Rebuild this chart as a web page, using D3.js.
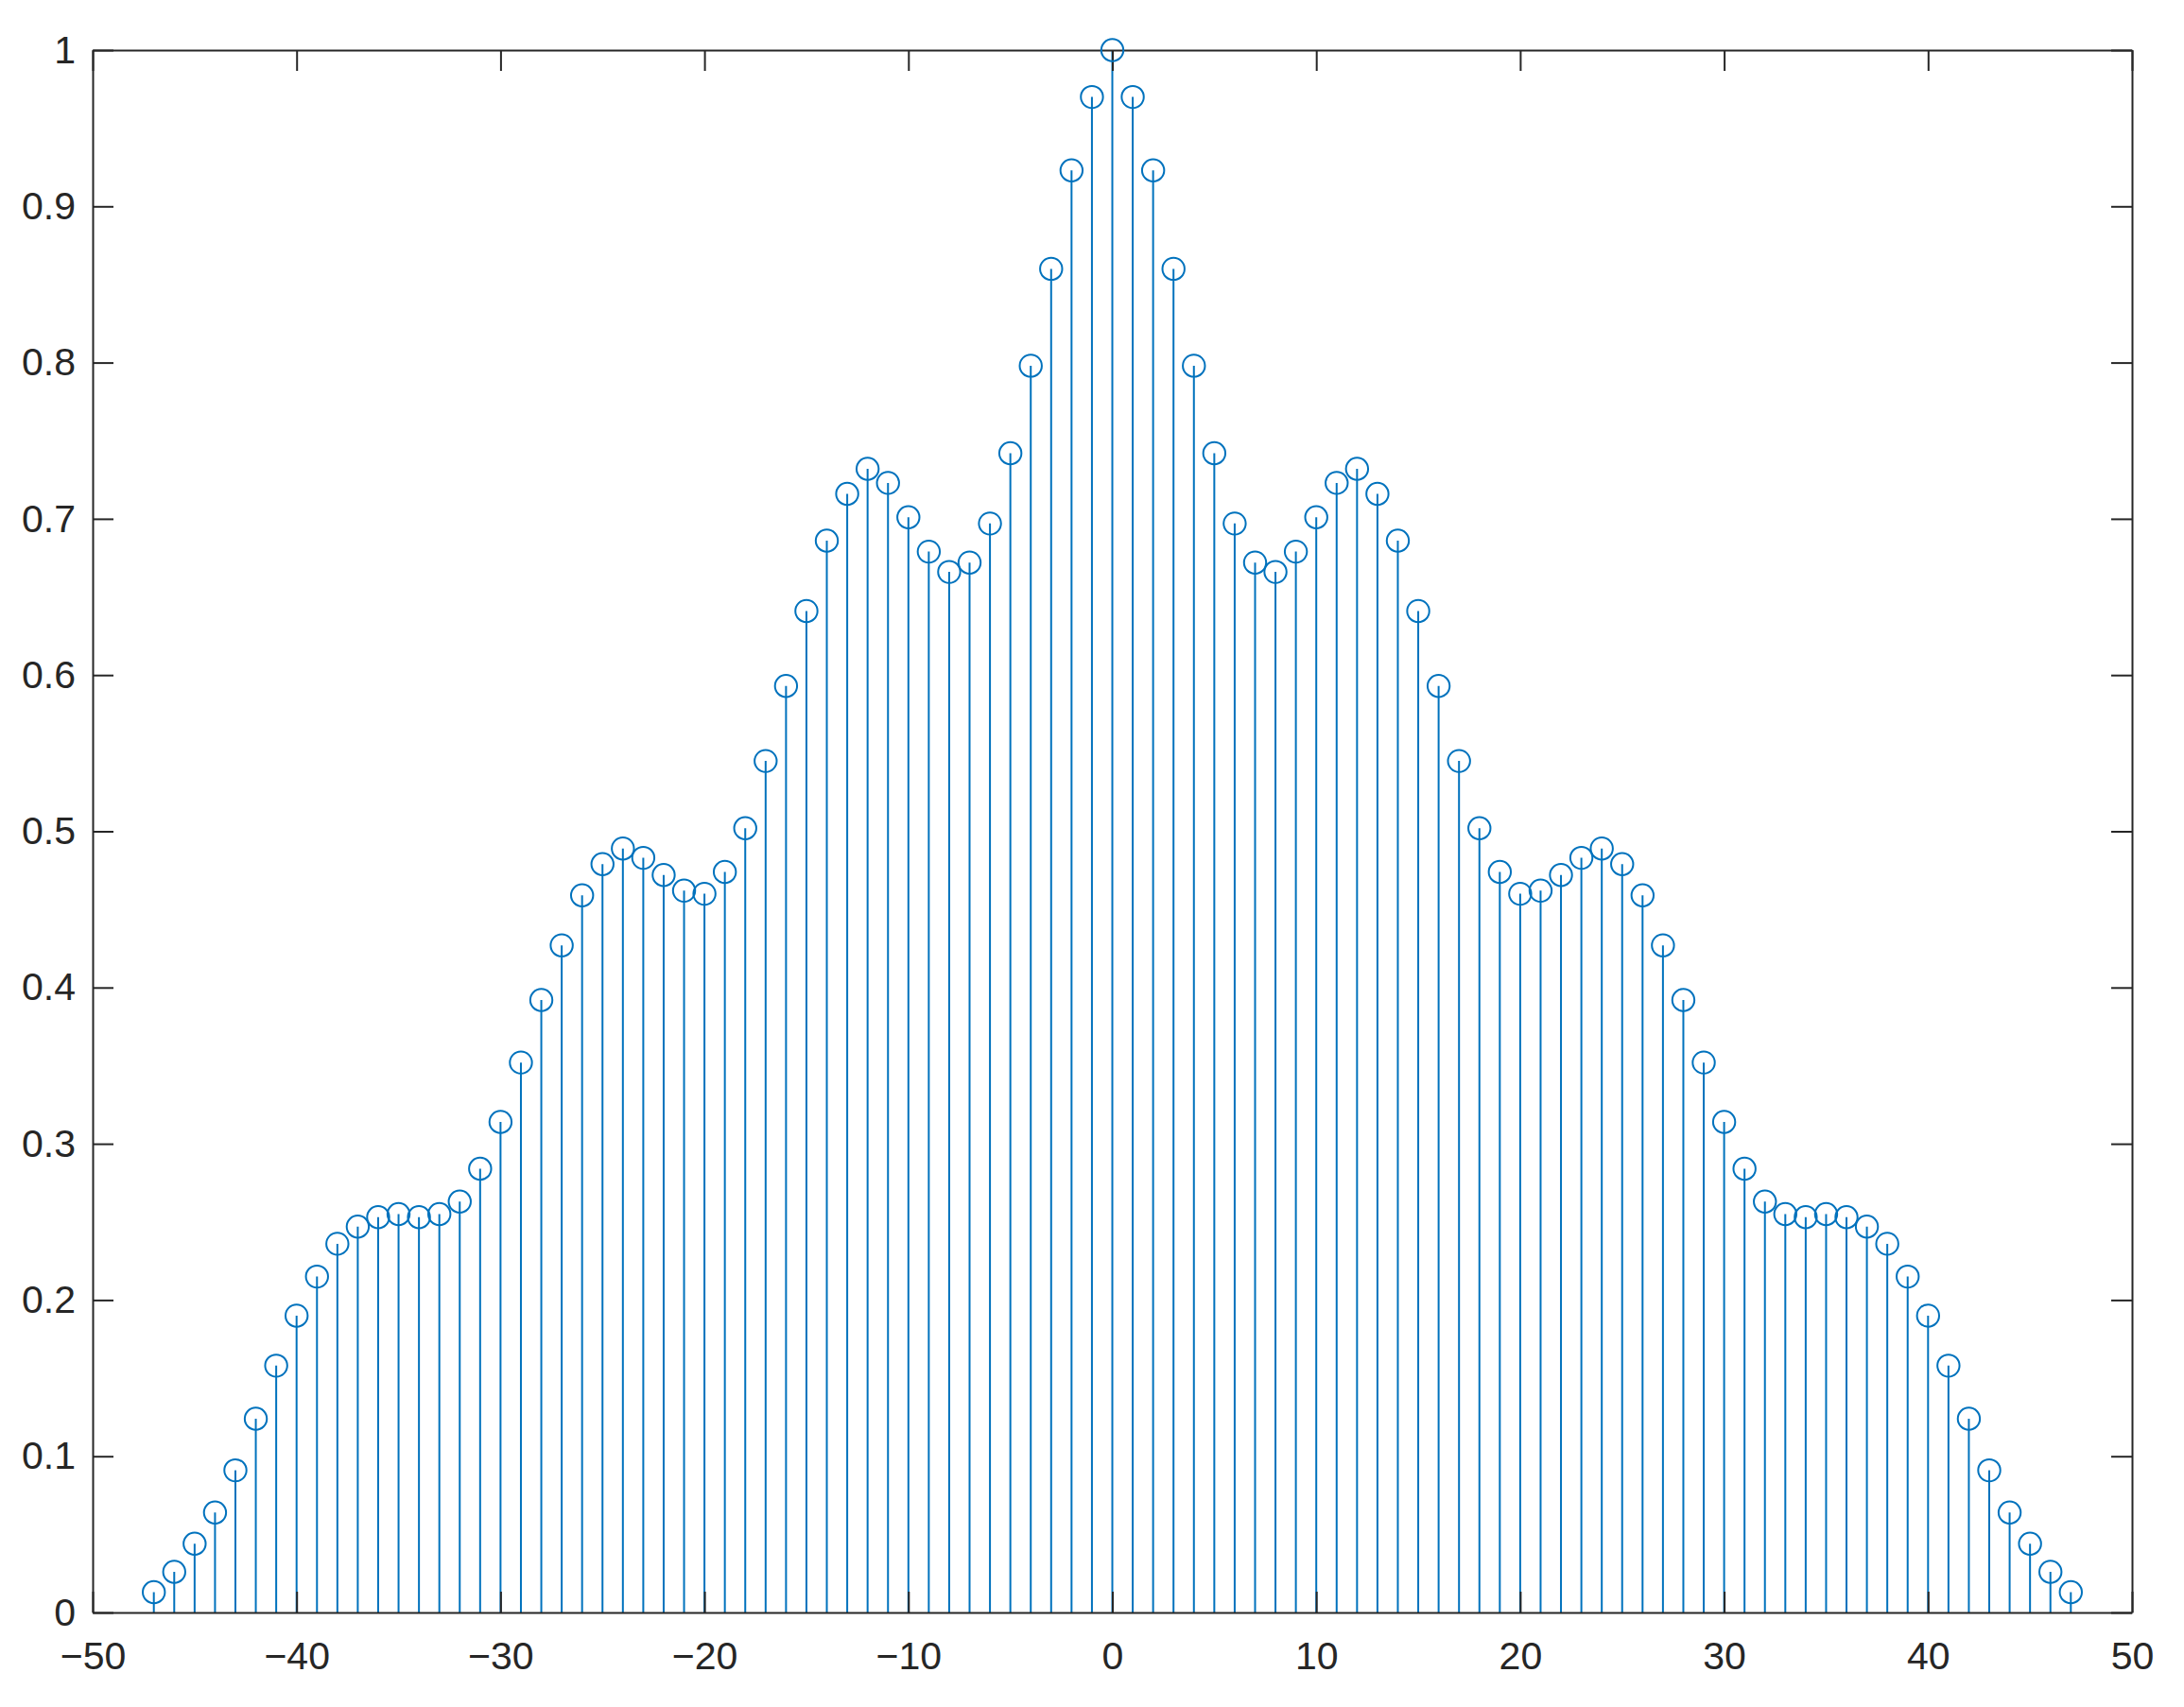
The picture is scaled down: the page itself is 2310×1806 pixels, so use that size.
<!DOCTYPE html>
<html lang="en">
<head>
    <meta charset="UTF-8">
    <title>Stem plot</title>
    <script src="https://d3js.org/d3.v7.min.js"></script>
<style>
    body { margin: 0; background: white; }
    .axis text { font-family: "Liberation Sans", Arial, sans-serif; font-size: 41px; fill: #262626; }
    .axis path, .axis line { stroke: #262626; stroke-width: 2; }
</style>
</head>
<body>
<script>

    // lags on the x axis
    var lags = d3.range(-47, 48);

    // stem heights, for lag -47 ... 47
    var values = [
        0.013, 0.026, 0.044, 0.064, 0.091, 0.124, 0.158, 0.190, 0.215, 0.236,
        0.247, 0.253, 0.255, 0.253, 0.255, 0.263, 0.284, 0.314, 0.352, 0.392,
        0.427, 0.459, 0.479, 0.489, 0.483, 0.472, 0.462, 0.460, 0.474, 0.502,
        0.545, 0.593, 0.641, 0.686, 0.716, 0.732, 0.723, 0.701, 0.679, 0.666,
        0.672, 0.697, 0.742, 0.798, 0.860, 0.923, 0.970,
        1.000,
        0.970, 0.923, 0.860, 0.798, 0.742, 0.697, 0.672, 0.666, 0.679, 0.701,
        0.723, 0.732, 0.716, 0.686, 0.641, 0.593, 0.545, 0.502, 0.474, 0.460,
        0.462, 0.472, 0.483, 0.489, 0.479, 0.459, 0.427, 0.392, 0.352, 0.314,
        0.284, 0.263, 0.255, 0.253, 0.255, 0.253, 0.247, 0.236, 0.215, 0.190,
        0.158, 0.124, 0.091, 0.064, 0.044, 0.026, 0.013
    ];

    var xTicks = [-50, -40, -30, -20, -10, 0, 10, 20, 30, 40, 50];
    var yTicks = [0, 0.1, 0.2, 0.3, 0.4, 0.5, 0.6, 0.7, 0.8, 0.9, 1];

    var W = 2310, H = 1806;
    var margin = {top: 53, right: 55, bottom: 100, left: 98};
    var width = W - margin.left - margin.right;
    var height = H - margin.top - margin.bottom;
    var tick = 22;
    var color = "#0072BD";

    var svg = d3.select("body").append("svg")
        .attr("width", W)
        .attr("height", H);

    var g = svg.append("g")
        .attr("transform", `translate(${margin.left},${margin.top})`);

    var x = d3.scaleLinear().domain([-50, 50]).range([0, width]);
    var y = d3.scaleLinear().domain([0, 1]).range([height, 0]);

    var data = lags.map(function(d, i) { return {lag: d, v: values[i]}; });

    // stems
    g.append("g").selectAll("line")
        .data(data)
        .enter()
        .append("line")
            .attr("x1", function(d) { return x(d.lag); })
            .attr("x2", function(d) { return x(d.lag); })
            .attr("y1", y(0))
            .attr("y2", function(d) { return y(d.v); })
            .attr("stroke", color)
            .attr("stroke-width", 2);

    // axes, box on, ticks pointing in
    g.append("g").attr("class", "axis")
        .attr("transform", `translate(0,${height})`)
        .call(d3.axisBottom(x).tickValues(xTicks).tickSize(-tick).tickSizeOuter(0).tickPadding(31));

    g.append("g").attr("class", "axis")
        .call(d3.axisLeft(y).tickValues(yTicks).tickSize(-tick).tickSizeOuter(0).tickPadding(18)
            .tickFormat(function(d) { return d3.format("~g")(d); }));

    g.append("g").attr("class", "axis")
        .call(d3.axisTop(x).tickValues(xTicks).tickSize(-tick).tickSizeOuter(0).tickFormat(""));

    g.append("g").attr("class", "axis")
        .attr("transform", `translate(${width},0)`)
        .call(d3.axisRight(y).tickValues(yTicks).tickSize(-tick).tickSizeOuter(0).tickFormat(""));

    // markers
    g.append("g").selectAll("circle")
        .data(data)
        .enter()
        .append("circle")
            .attr("cx", function(d) { return x(d.lag); })
            .attr("cy", function(d) { return y(d.v); })
            .attr("r", 11.7)
            .attr("fill", "none")
            .attr("stroke", color)
            .attr("stroke-width", 2);

</script>
</body>
</html>
